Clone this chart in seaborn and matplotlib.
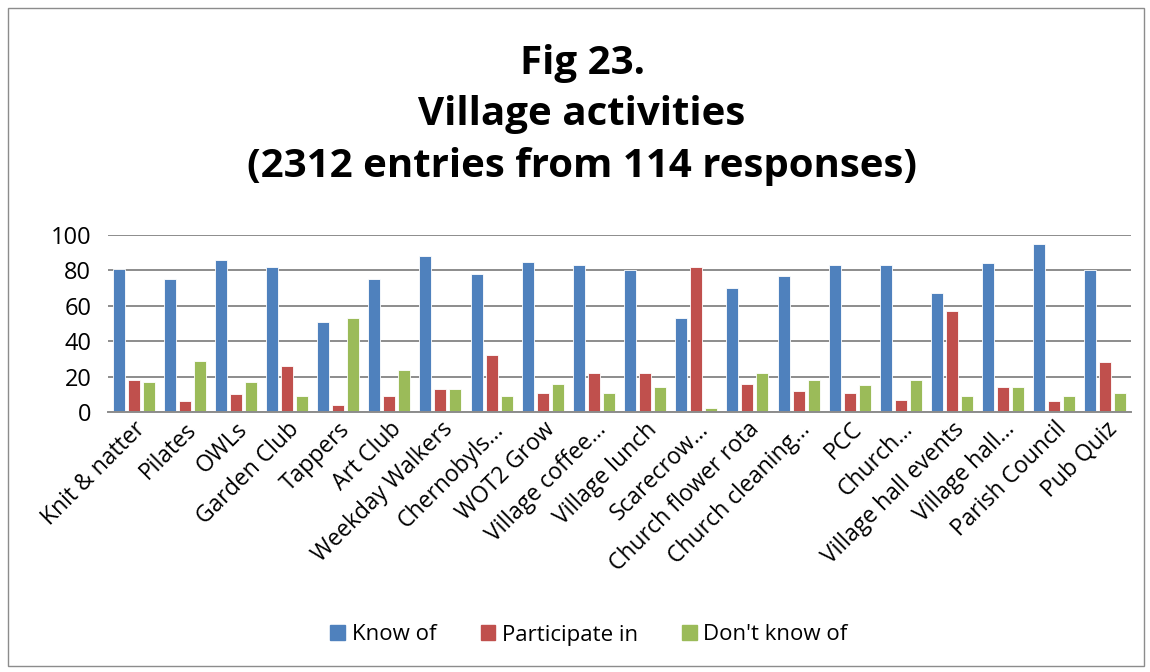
import matplotlib
matplotlib.use("Agg")
import matplotlib.pyplot as plt
import seaborn as sns
import pandas as pd
from matplotlib.patches import Rectangle

categories = ["Knit & natter", "Pilates", "OWLs", "Garden Club", "Tappers", "Art Club",
              "Weekday Walkers", "Chernobyls…", "WOT2 Grow", "Village coffee…",
              "Village lunch", "Scarecrow…", "Church flower rota", "Church cleaning…",
              "PCC", "Church…", "Village hall events", "Village hall…",
              "Parish Council", "Pub Quiz"]
know_of = [81, 75, 86, 82, 51, 75, 88, 78, 85, 83, 80, 53, 70, 77, 83, 83, 67, 84, 95, 80]
participate_in = [18, 6, 10, 26, 4, 9, 13, 32, 11, 22, 22, 82, 16, 12, 11, 7, 57, 14, 6, 28]
dont_know_of = [17, 29, 17, 9, 53, 24, 13, 9, 16, 11, 14, 2, 22, 18, 15, 18, 9, 14, 9, 11]
series = ["Know of", "Participate in", "Don't know of"]
colors = ["#4F81BD", "#C0504D", "#9BBB59"]
yticks = [0, 20, 40, 60, 80, 100]
title = "Fig 23.\nVillage activities\n(2312 entries from 114 responses)"

rows = []
for i, c in enumerate(categories):
    for s, vals in zip(series, [know_of, participate_in, dont_know_of]):
        rows.append({"category": c, "series": s, "value": vals[i]})
df = pd.DataFrame(rows)

sns.set_theme(style="white")
plt.rcParams['font.family'] = ['Open Sans', 'DejaVu Sans']
plt.rcParams['text.color'] = 'black'
plt.rcParams['xtick.color'] = 'black'
plt.rcParams['ytick.color'] = 'black'

fig = plt.figure(figsize=(11.5, 6.72), dpi=100)
ax = fig.add_axes([108/1150, 1 - 412/672, (1131 - 108)/1150, (412 - 235)/672])

sns.barplot(data=df, x="category", y="value", hue="series", palette=colors,
            width=0.88, gap=0.2, ax=ax, edgecolor="white", linewidth=0.6,
            saturation=1)

ax.set_ylim(0, 100)
ax.set_yticks(yticks)
ax.set_xlim(-0.5, len(categories) - 0.5)
ax.yaxis.grid(True, color="#8c8c8c", linewidth=1.4)
ax.set_axisbelow(True)
for sp in ["top", "right", "left"]:
    ax.spines[sp].set_visible(False)
ax.spines["bottom"].set_color("#8c8c8c")
ax.spines["bottom"].set_linewidth(1.4)
ax.set_xlabel("")
ax.set_ylabel("")
ax.tick_params(axis="y", labelsize=17, length=0, pad=12, labelcolor="black")
ax.tick_params(axis="x", labelsize=16.5, length=0, pad=4, labelcolor="black")
plt.setp(ax.get_xticklabels(), rotation=45, ha="right", rotation_mode="anchor")

ax.legend_.remove()
handles = [Rectangle((0, 0), 1, 1, color=c) for c in colors]
fig.legend(handles, series, loc="center", bbox_to_anchor=(589/1150, 1 - 635/672),
           ncol=3, frameon=False, fontsize=16, handlelength=0.65, handleheight=0.65,
           columnspacing=2.0, handletextpad=0.3)

fig.text(582/1150, 1 - 115/672, title, ha="center", va="center", fontsize=29,
         fontweight="bold", linespacing=1.42, color="black")

fig.patches.append(Rectangle((8/1150, 1 - 666/672), 1136/1150, 658/672,
                             transform=fig.transFigure, fill=False,
                             edgecolor="#8c8c8c", linewidth=1))

fig.savefig("out.png", dpi=100)
